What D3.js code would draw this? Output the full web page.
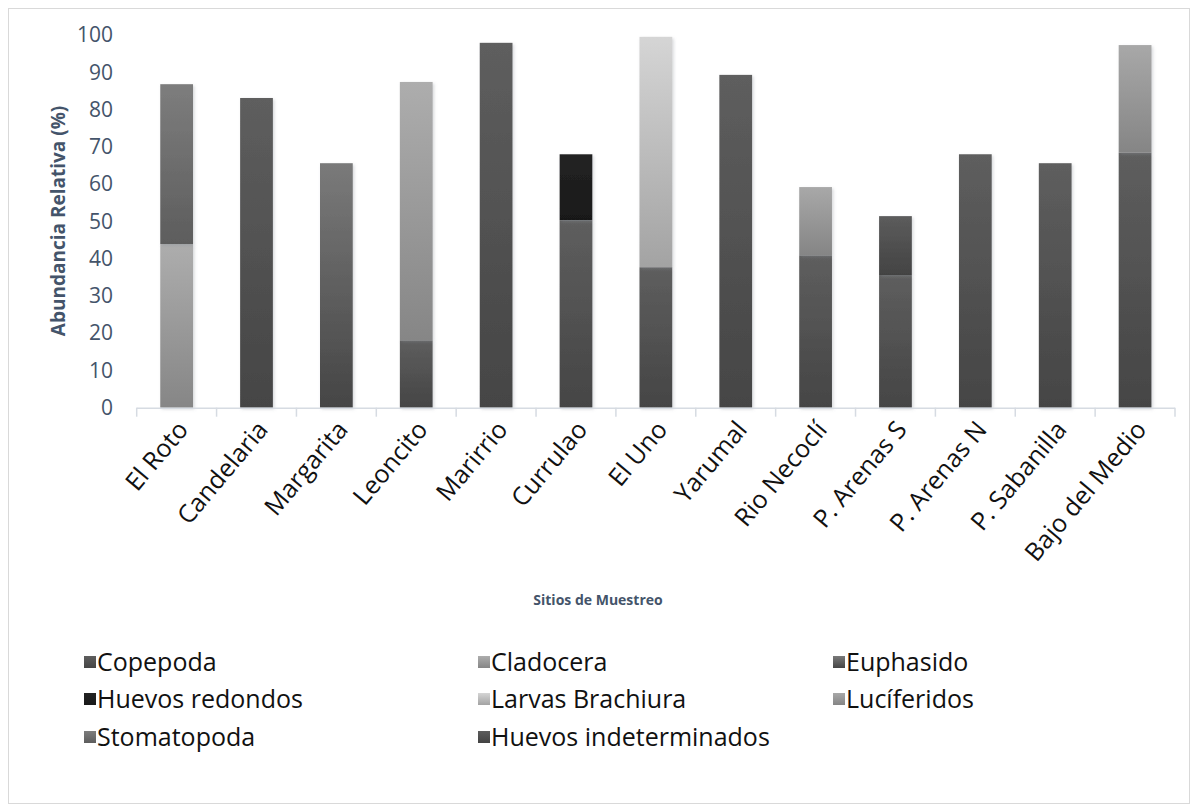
<!DOCTYPE html>
<html>
<head>
<meta charset="utf-8">
<script src="https://cdn.jsdelivr.net/npm/d3@7"></script>
<style>
  html, body { margin: 0; padding: 0; background: #fff; }
  svg { display: block; }
  text { font-family: "Open Sans", "Noto Sans", "Liberation Sans", sans-serif; }
</style>
</head>
<body>
<svg id="chart" width="1199" height="812"></svg>
<script>
// Sampling sites
const sites = ["El Roto", "Candelaria", "Margarita", "Leoncito", "Marirrio", "Currulao",
  "El Uno", "Yarumal", "Rio Necoclí", "P. Arenas S", "P. Arenas N", "P. Sabanilla", "Bajo del Medio"];

// Relative abundance (%) per taxon, one value per site
const copepoda        = [0, 83.1, 0, 18.1, 97.9, 50.3, 37.7, 89.3, 40.9, 35.6, 68.0, 65.6, 68.4];
const cladocera       = [43.9, 0, 0, 69.3, 0, 0, 0, 0, 0, 0, 0, 0, 0];
const euphasido       = [0, 0, 65.6, 0, 0, 0, 0, 0, 0, 0, 0, 0, 0];
const huevosRedondos  = [0, 0, 0, 0, 0, 17.7, 0, 0, 0, 0, 0, 0, 0];
const larvasBrachiura = [0, 0, 0, 0, 0, 0, 61.8, 0, 0, 0, 0, 0, 0];
const luciferidos     = [0, 0, 0, 0, 0, 0, 0, 0, 18.3, 0, 0, 0, 28.9];
const stomatopoda     = [42.9, 0, 0, 0, 0, 0, 0, 0, 0, 0, 0, 0, 0];
const huevosIndet     = [0, 0, 0, 0, 0, 0, 0, 0, 0, 15.8, 0, 0, 0];

const seriesNames = ["Copepoda", "Cladocera", "Euphasido", "Huevos redondos",
  "Larvas Brachiura", "Lucíferidos", "Stomatopoda", "Huevos indeterminados"];
const seriesValues = [copepoda, cladocera, euphasido, huevosRedondos,
  larvasBrachiura, luciferidos, stomatopoda, huevosIndet];

const yTicks = [0, 10, 20, 30, 40, 50, 60, 70, 80, 90, 100];

// Gradient fill (top colour, bottom colour) for each taxon
const fills = [
  ["#5e5e5e", "#454545"],
  ["#adadad", "#868686"],
  ["#7a7a7a", "#454545"],
  ["#232323", "#191919"],
  ["#d5d5d5", "#a3a3a3"],
  ["#a8a8a8", "#858585"],
  ["#7d7d7d", "#5d5d5d"],
  ["#5c5c5c", "#434343"]
];

const svg = d3.select("#chart");
const defs = svg.append("defs");

fills.forEach((f, i) => {
  const g = defs.append("linearGradient")
    .attr("id", "grad" + i)
    .attr("x1", 0).attr("y1", 0).attr("x2", 0).attr("y2", 1);
  g.append("stop").attr("offset", "0%").attr("stop-color", f[0]);
  g.append("stop").attr("offset", "100%").attr("stop-color", f[1]);
});

const shadow = defs.append("filter").attr("id", "shadow")
  .attr("x", "-20%").attr("y", "-5%").attr("width", "150%").attr("height", "115%");
shadow.append("feDropShadow")
  .attr("dx", 1.5).attr("dy", 1.5).attr("stdDeviation", 1.6)
  .attr("flood-color", "#8a9099").attr("flood-opacity", 0.35);

// Chart frame
svg.append("rect")
  .attr("x", 8.5).attr("y", 8.5).attr("width", 1181).attr("height", 795)
  .attr("fill", "#fff").attr("stroke", "#d9d9d9").attr("stroke-width", 1);

const x = d3.scaleBand().domain(sites).range([136.7, 1175]).paddingInner(0.59).paddingOuter(0.295);
const y = d3.scaleLinear().domain([0, 100]).range([407.7, 35]);

// Stack data
const rows = sites.map((s, i) => {
  const r = { site: s };
  seriesNames.forEach((n, k) => { r[n] = seriesValues[k][i]; });
  return r;
});
const stacked = d3.stack().keys(seriesNames)(rows);

// Y axis tick labels
const yAxis = svg.append("g").attr("transform", "translate(113,0)")
  .call(d3.axisLeft(y).tickValues(yTicks).tickSize(0).tickPadding(0));
yAxis.select(".domain").remove();
yAxis.selectAll("text")
  .attr("fill", "#44546a")
  .style("font-size", "21px");

// Bars
const layers = svg.append("g").selectAll("g")
  .data(stacked).join("g")
  .attr("fill", (d, i) => `url(#grad${i})`);

layers.selectAll("rect")
  .data(d => d.filter(p => p[1] - p[0] > 0))
  .join("rect")
  .attr("x", d => x(d.data.site))
  .attr("width", x.bandwidth())
  .attr("y", d => y(d[1]))
  .attr("height", d => y(d[0]) - y(d[1]))
  .attr("filter", "url(#shadow)");

// X axis
const xAxisG = svg.append("g").attr("transform", `translate(0,${y(0)})`);
const bandEdges = sites.map(s => x(s) - x.step() * x.paddingInner() / 2);
bandEdges.push(1175);
xAxisG.append("line")
  .attr("x1", 136.7).attr("x2", 1175).attr("y1", 0.5).attr("y2", 0.5)
  .attr("stroke", "#d6dbe2").attr("stroke-width", 1.5);
xAxisG.selectAll("line.tick")
  .data(bandEdges).join("line")
  .attr("class", "tick")
  .attr("x1", d => d).attr("x2", d => d)
  .attr("y1", 0).attr("y2", 9)
  .attr("stroke", "#d6dbe2").attr("stroke-width", 1.5);

// Rotated category labels
svg.append("g").selectAll("text")
  .data(sites).join("text")
  .attr("transform", d => `translate(${x(d) + x.bandwidth() / 2 + 6},${y(0) + 17}) rotate(-50)`)
  .attr("text-anchor", "end")
  .attr("dy", "0.35em")
  .attr("fill", "#111")
  .style("font-size", "25px")
  .text(d => d);

// Axis titles
svg.append("text")
  .attr("transform", "translate(58,221) rotate(-90)")
  .attr("text-anchor", "middle")
  .attr("dy", "0.35em")
  .attr("fill", "#44546a")
  .style("font-size", "19px").style("font-weight", "bold")
  .text("Abundancia Relativa (%)");

svg.append("text")
  .attr("x", 598).attr("y", 600)
  .attr("text-anchor", "middle")
  .attr("dy", "0.35em")
  .attr("fill", "#44546a")
  .style("font-size", "14px").style("font-weight", "bold")
  .text("Sitios de Muestreo");

// Legend, three columns
const legendCols = [84, 478, 833];
const legendRows = [662, 699, 737];
const legend = svg.append("g").selectAll("g")
  .data(seriesNames).join("g")
  .attr("transform", (d, i) => `translate(${legendCols[i % 3]},${legendRows[Math.floor(i / 3)]})`);
legend.append("rect")
  .attr("x", 0).attr("y", -6).attr("width", 12).attr("height", 12)
  .attr("fill", (d, i) => `url(#grad${i})`);
legend.append("text")
  .attr("x", 13).attr("y", 0).attr("dy", "0.36em")
  .attr("fill", "#111")
  .style("font-size", "25px")
  .text(d => d);
</script>
</body>
</html>
